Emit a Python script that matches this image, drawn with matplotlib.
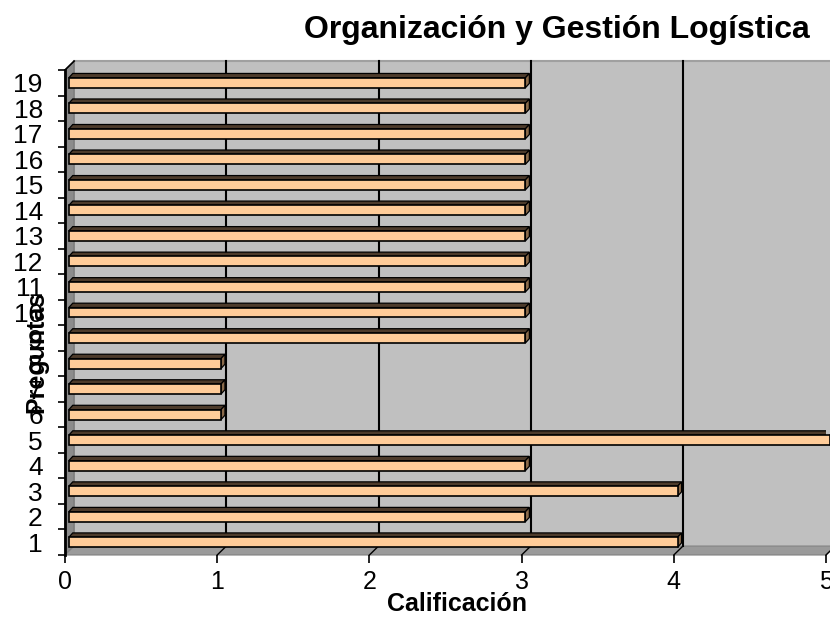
import matplotlib
matplotlib.use("Agg")
import matplotlib.pyplot as plt
from matplotlib.patches import Polygon, Rectangle

plt.rcParams['font.family'] = ['Liberation Sans', 'DejaVu Sans']

# ── datos ──────────────────────────────────────────
preguntas = list(range(1, 20))
calificacion = [4, 3, 4, 3, 5, 1, 1, 1, 3, 3, 3, 3, 3, 3, 3, 3, 3, 3, 3]
x_ticks = [0, 1, 2, 3, 4, 5]

TITLE = "Organización y Gestión Logística"
XLABEL = "Calificación"
YLABEL = "Preguntas"

# ── estilo (imitación 3D de Excel) ─────────────────
WALL = "#C0C0C0"
SIDE = "#8C8C8C"
FLOOR = "#9A9A9A"
PEACH = "#FFCC99"
TOPC = "#4D3B2B"
RIGHTC = "#8A6A4A"
dx, dy = 0.06, 0.35      # profundidad de la pared
ox = 0.025               # desplazamiento de barras
h = 0.39                 # alto frontal de barra
tx, ty = 0.026, 0.17     # cara superior

fig = plt.figure(figsize=(8.3, 6.18), dpi=100)
ax = fig.add_axes([65 / 830, 63 / 618, 761 / 830, 485 / 618])
ax.set_xlim(0, 5)
ax.set_ylim(0.5, 19.5)
for s in ax.spines.values():
    s.set_visible(False)
ax.patch.set_visible(False)

y0, y1 = 0.5, 19.5
# pared trasera, lateral y piso
ax.add_patch(Rectangle((dx, y0 + dy), 5, y1 - y0, facecolor=WALL, edgecolor="none",
                       clip_on=False, zorder=0))
ax.plot([dx, 5 + dx], [y1 + dy, y1 + dy], color="#A0A0A0", lw=1.5, clip_on=False, zorder=1)
ax.add_patch(Polygon([(0, y0), (dx, y0 + dy), (dx, y1 + dy), (0, y1)], closed=True,
                     facecolor=SIDE, edgecolor="#707070", lw=0.8, clip_on=False, zorder=1))
ax.add_patch(Polygon([(0, y0), (5, y0), (5 + dx, y0 + dy), (dx, y0 + dy)], closed=True,
                     facecolor=FLOOR, edgecolor="#808080", lw=0.8, clip_on=False, zorder=1))
for k in x_ticks[1:]:
    ax.plot([k + dx, k + dx], [y0 + dy, y1 + dy], color="black", lw=1.5, clip_on=False, zorder=1)
    ax.plot([k, k + dx], [y0, y0 + dy], color="black", lw=1.0, clip_on=False, zorder=1)
ax.plot([0, 0], [y0, y1], color="black", lw=2, clip_on=False, zorder=5)
ax.plot([0, dx], [y1, y1 + dy], color="black", lw=1.2, clip_on=False, zorder=5)

# barras
for c, v in zip(preguntas, calificacion):
    b, t = c - h / 2, c + h / 2
    ax.add_patch(Polygon([(ox, t), (v + ox, t), (v + ox + tx, t + ty), (ox + tx, t + ty)],
                         closed=True, facecolor=TOPC, edgecolor="black", lw=0.9, zorder=3))
    ax.add_patch(Polygon([(v + ox, b), (v + ox + tx, b + ty), (v + ox + tx, t + ty), (v + ox, t)],
                         closed=True, facecolor=RIGHTC, edgecolor="black", lw=0.9, zorder=3,
                         clip_on=False))
    ax.add_patch(Rectangle((ox, b), v, h, facecolor=PEACH, edgecolor="black", lw=1.2, zorder=4,
                           clip_on=False))

# ejes
ax.set_xticks(x_ticks)
ax.set_xticklabels([str(k) for k in x_ticks])
ax.set_yticks(preguntas)
ax.set_yticklabels([str(p) for p in preguntas])
ax.set_yticks([p + 0.5 for p in range(0, 20)], minor=True)
ax.tick_params(axis="y", which="major", length=0, pad=16, labelsize=19)
ax.tick_params(axis="y", which="minor", length=5, width=1.2, direction="out")
ax.tick_params(axis="x", which="major", length=6, width=1.2, pad=5, labelsize=18)

fig.text(457 / 830, 1 - 604 / 618, XLABEL, ha="center", va="center", fontsize=18,
         fontweight="bold")
fig.text(36 / 830, 1 - 352 / 618, YLABEL, ha="center", va="center", fontsize=18,
         fontweight="bold", rotation=90)

fig.text(557 / 830, 1 - 30 / 618, TITLE, ha="center", va="center", fontsize=23,
         fontweight="bold")

fig.savefig("out.png", dpi=100)
